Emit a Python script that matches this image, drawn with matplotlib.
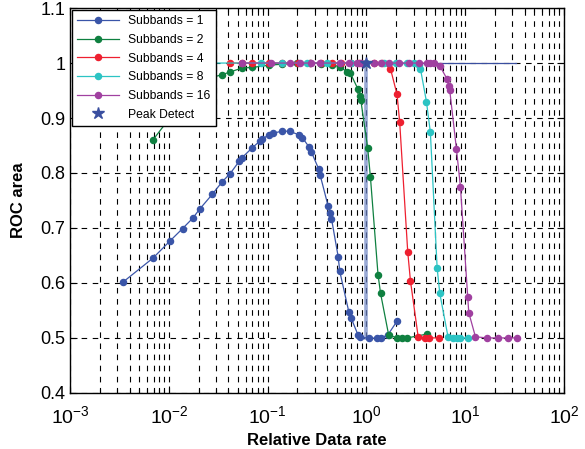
import matplotlib.pyplot as plt
from matplotlib.ticker import LogLocator, FormatStrFormatter, NullFormatter

plt.rcParams['font.family'] = ['Liberation Sans', 'DejaVu Sans']
plt.rcParams['mathtext.fontset'] = 'custom'
plt.rcParams['mathtext.rm'] = 'Liberation Sans'
plt.rcParams['mathtext.it'] = 'Liberation Sans'
plt.rcParams['mathtext.default'] = 'regular'

# Subbands = 1
x1 = [0.00345, 0.00687, 0.0102, 0.01375, 0.01746, 0.0204, 0.0274, 0.0346, 0.0417,
      0.0518, 0.0543, 0.069, 0.0832, 0.0879, 0.1026, 0.112, 0.138, 0.1675, 0.2085,
      0.225, 0.2607, 0.2757, 0.329, 0.340, 0.409, 0.429, 0.4426, 0.517, 0.537,
      0.662, 0.700, 0.824, 0.869, 1.055, 1.28, 1.39, 1.64, 2.05]
y1 = [0.602, 0.645, 0.676, 0.699, 0.718, 0.734, 0.761, 0.784, 0.799,
      0.822, 0.827, 0.845, 0.858, 0.861, 0.870, 0.872, 0.876, 0.876, 0.869,
      0.864, 0.848, 0.839, 0.807, 0.796, 0.740, 0.727, 0.717, 0.648, 0.621,
      0.548, 0.536, 0.505, 0.502, 0.499, 0.500, 0.500, 0.505, 0.531]

# Subbands = 2
x2 = [0.00687, 0.0137, 0.0205, 0.0275, 0.0347, 0.042, 0.055, 0.0696, 0.1026,
      0.14, 0.2, 0.27, 0.35, 0.45, 0.537, 0.638, 0.689, 0.824, 0.856, 0.876,
      1.03, 1.098, 1.31, 1.39, 1.68, 2.05, 2.3, 2.6, 4.1]
y2 = [0.860, 0.930, 0.962, 0.974, 0.979, 0.984, 0.991, 0.992, 0.996,
      0.998, 1.0, 1.0, 0.999, 0.997, 0.993, 0.984, 0.981, 0.952, 0.940, 0.933,
      0.845, 0.792, 0.615, 0.581, 0.505, 0.500, 0.500, 0.500, 0.507]

# Subbands = 4
x4 = [0.042, 0.055, 0.0696, 0.1026, 0.14, 0.2017, 0.27, 0.35, 0.45, 0.55, 0.7,
      0.85, 1.0, 1.2, 1.45, 1.75, 2.04, 2.17, 2.62, 2.79, 3.34, 3.9, 4.3, 5.4]
y4 = [1.0, 1.0, 1.0, 1.0, 1.0, 1.0, 1.0, 1.0, 1.0, 1.0, 1.0,
      1.0, 1.0, 1.0, 1.0, 0.990, 0.943, 0.893, 0.656, 0.604, 0.502, 0.500, 0.500, 0.500]

# Subbands = 8
x8 = [0.02, 0.0846, 0.14, 0.25, 0.4, 0.7, 1.0, 1.5, 2.0, 2.6, 3.0, 3.39, 3.52,
      4.05, 4.44, 5.2, 5.53, 6.7, 7.5, 8.3, 8.95, 10.7]
y8 = [1.0, 1.0, 1.0, 1.0, 1.0, 1.0, 1.0, 1.0, 1.0, 1.0, 1.0, 0.996, 0.990,
      0.930, 0.874, 0.627, 0.581, 0.502, 0.500, 0.500, 0.500, 0.500]

# Subbands = 16
x16 = [0.055, 0.107, 0.17, 0.21, 0.277, 0.337, 0.545, 0.66, 0.805, 0.885, 1.2,
       1.39, 1.68, 2.13, 2.68, 3.39, 4.1, 4.44, 4.86, 5.53, 6.55, 6.81, 6.97,
       8.15, 8.95, 10.6, 10.87, 12.7, 16.7, 21.3, 27.1, 33.4]
y16 = [1.0, 1.0, 1.0, 1.0, 1.0, 1.0, 1.0, 1.0, 1.0, 1.0, 1.0,
       1.0, 1.0, 1.0, 1.0, 1.0, 1.0, 1.0, 1.0, 0.995, 0.971, 0.959, 0.951,
       0.844, 0.775, 0.575, 0.546, 0.502, 0.500, 0.500, 0.500, 0.500]

peak_x = [1.0]
peak_y = [1.0]
peak_vert_x = [1.0, 1.0]
peak_vert_y = [0.5, 1.0]
peak_horiz_x = [1.0, 33.0]
peak_horiz_y = [1.0, 1.0]

fig = plt.figure(figsize=(5.85, 4.49), dpi=100)
ax = fig.add_axes([0.12, 0.125, 0.844, 0.857])

ms = 4.4
lw = 0.9
ax.plot(peak_vert_x, peak_vert_y, color='#6f86c4', lw=2.6, alpha=0.7, zorder=2)
ax.plot(peak_horiz_x, peak_horiz_y, color='#3a4f9f', lw=0.9, zorder=2)
ax.plot(x1, y1, '-o', color='#3a55a8', lw=lw, ms=ms, label='Subbands = 1', zorder=3)
ax.plot(x2, y2, '-o', color='#0f8040', lw=lw, ms=ms, label='Subbands = 2', zorder=3)
ax.plot(x4, y4, '-o', color='#ee2030', lw=lw, ms=ms, label='Subbands = 4', zorder=3)
ax.plot(x8, y8, '-o', color='#2cc4c4', lw=lw, ms=ms, label='Subbands = 8', zorder=3)
ax.plot(x16, y16, '-o', color='#a040a0', lw=lw, ms=ms, label='Subbands = 16', zorder=3)
ax.plot(peak_x, peak_y, '*', color='#3a4f9f', ms=9, ls='none', label='Peak Detect', zorder=4)

ax.set_xscale('log')
ax.set_xlim(1e-3, 1e2)
ax.set_ylim(0.4, 1.1)
ax.set_yticks([0.4, 0.5, 0.6, 0.7, 0.8, 0.9, 1.0, 1.1])
ax.yaxis.set_major_formatter(FormatStrFormatter('%g'))
ax.xaxis.set_major_locator(LogLocator(base=10, numticks=10))
ax.xaxis.set_minor_locator(LogLocator(base=10, subs=range(2, 10), numticks=20))
ax.xaxis.set_minor_formatter(NullFormatter())

grid_style = dict(color='black', linestyle=(0, (5, 5)), linewidth=0.8)
ax.grid(True, which='major', axis='both', **grid_style)
ax.grid(True, which='minor', axis='x', **grid_style)

ax.tick_params(which='both', direction='in', top=True, right=True, labelsize=13)
ax.tick_params(which='major', length=5, width=0.8)
ax.tick_params(which='minor', length=3, width=0.8)
ax.tick_params(axis='x', which='major', pad=9, labelsize=14)
for s in ax.spines.values():
    s.set_linewidth(1.0)

ax.set_xlabel('Relative Data rate', fontsize=12, fontweight='bold', labelpad=4)
ax.set_ylabel('ROC area', fontsize=12, fontweight='bold', labelpad=10)

leg = ax.legend(loc='upper left', fontsize=8.7, frameon=True, fancybox=False,
                framealpha=1, edgecolor='black', borderaxespad=0.15,
                handlelength=3.4, labelspacing=0.55, borderpad=0.45)
leg.get_frame().set_linewidth(1.0)

fig.savefig('out.png', dpi=100)
